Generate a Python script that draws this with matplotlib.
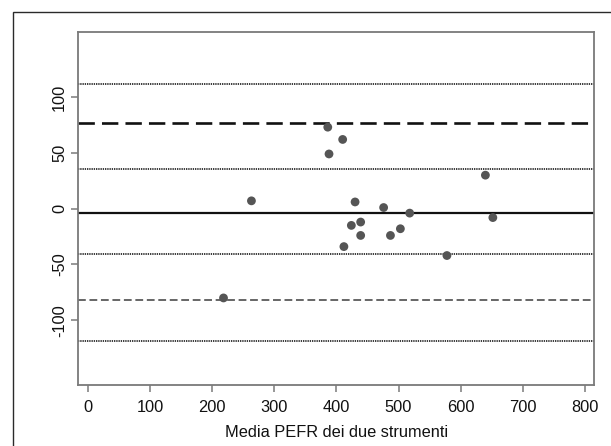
import numpy as np
import matplotlib.pyplot as plt
from matplotlib.patches import Rectangle

# Bland-Altman: media PEFR vs differenza tra i due strumenti
media = [386, 410, 388, 640, 263, 430, 476, 518, 652,
         424, 439, 439, 487, 503, 412, 578, 218]
diff = [73, 62, 49, 30, 7, 6, 1, -4, -8,
        -15, -12, -24, -24, -18, -34, -42, -80]

mean_diff = -4.2
loa_upper = 76.9
loa_lower = -81.7
ci_levels = [112, 35.8, -40.9, -118.7]  # limiti di confidenza (punteggiate)

x_ticks = [0, 100, 200, 300, 400, 500, 600, 700, 800]
y_ticks = [-100, -50, 0, 50, 100]

plt.rcParams["font.family"] = ["Liberation Sans", "DejaVu Sans"]

fig = plt.figure(figsize=(6.11, 4.46), dpi=100)
ax = fig.add_axes([78.3 / 611, 1 - 385 / 446, (594 - 78.3) / 611, (385 - 32.3) / 446])

# outer frame (clipped at right/bottom like the source)
top = 1 - 11.7 / 446
fig.add_artist(Rectangle((13.3 / 611, -0.2), 1.2, top + 0.2,
                         transform=fig.transFigure, fill=False,
                         ec="#2a2a2a", lw=1.0))

for lev in ci_levels:
    ax.axhline(lev, color="#1a1a1a", lw=1.2, ls=(0, (0.8, 0.55)))
ax.axhline(loa_upper, color="#111111", lw=1.9, ls=(0, (6.2, 2.7)))
ax.axhline(loa_lower, color="#666666", lw=1.4, ls=(0, (4, 1.9)))
ax.axhline(mean_diff, color="#111111", lw=1.6)

ax.scatter(media, diff, s=40, color="#555555", edgecolors="none", zorder=3)

ax.set_xlim(-16, 815)
ax.set_ylim(-158, 158)
ax.set_xticks(x_ticks)
ax.set_yticks(y_ticks)
ax.set_yticklabels([str(v) for v in y_ticks], rotation=90, va="center")

for s in ax.spines.values():
    s.set_color("#7a7a7a")
    s.set_linewidth(1.3)
ax.tick_params(axis="both", colors="#7a7a7a", labelcolor="#111111",
               length=5, width=1.1, labelsize=11.8)
ax.tick_params(axis="x", pad=6)
ax.tick_params(axis="y", pad=3)

ax.set_xlabel("Media PEFR dei due strumenti", fontsize=11.8, color="#111111", labelpad=7)

fig.savefig("out.png", dpi=100)
